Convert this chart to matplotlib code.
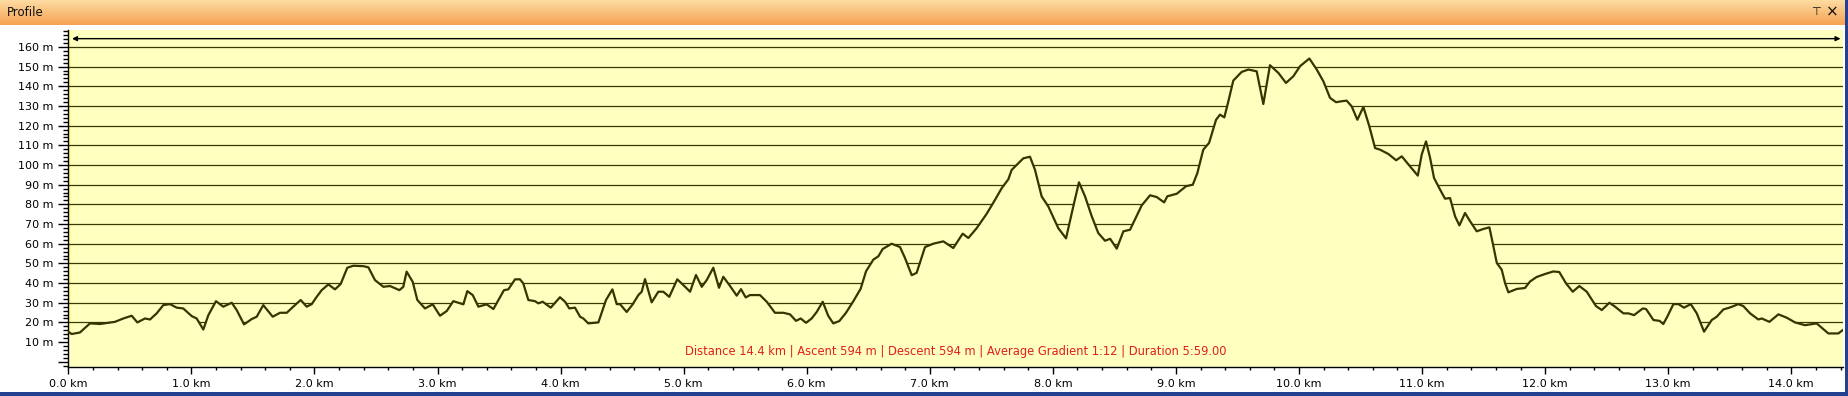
import numpy as np
import matplotlib.pyplot as plt
from matplotlib.colors import LinearSegmentedColormap
from matplotlib.patches import Rectangle
from matplotlib.ticker import MultipleLocator, FuncFormatter

# elevation profile
DIST_KM = [0.000, 0.027, 0.095, 0.176, 0.258, 0.379, 0.447, 0.515, 0.561, 0.623,
           0.664, 0.718, 0.772, 0.826, 0.881, 0.934, 1.003, 1.043, 1.097, 1.138,
           1.200, 1.259, 1.328, 1.368, 1.428, 1.490, 1.531, 1.584, 1.661, 1.720,
           1.775, 1.828, 1.888, 1.937, 1.978, 2.018, 2.059, 2.113, 2.167, 2.213,
           2.267, 2.316, 2.397, 2.438, 2.492, 2.560, 2.614, 2.690, 2.722, 2.749,
           2.798, 2.836, 2.898, 2.961, 3.020, 3.075, 3.128, 3.210, 3.242, 3.286,
           3.332, 3.399, 3.454, 3.502, 3.540, 3.575, 3.630, 3.670, 3.697, 3.738,
           3.792, 3.819, 3.855, 3.920, 3.995, 4.036, 4.071, 4.117, 4.158, 4.185,
           4.225, 4.307, 4.369, 4.421, 4.456, 4.483, 4.537, 4.586, 4.632, 4.659,
           4.686, 4.740, 4.794, 4.835, 4.883, 4.948, 4.997, 5.052, 5.100, 5.147,
           5.187, 5.241, 5.287, 5.322, 5.377, 5.431, 5.466, 5.504, 5.539, 5.620,
           5.675, 5.742, 5.810, 5.864, 5.913, 5.951, 5.994, 6.040, 6.081, 6.130,
           6.175, 6.216, 6.265, 6.319, 6.379, 6.438, 6.482, 6.541, 6.582, 6.617,
           6.690, 6.758, 6.798, 6.853, 6.893, 6.961, 7.028, 7.110, 7.191, 7.267,
           7.313, 7.381, 7.462, 7.530, 7.584, 7.638, 7.665, 7.760, 7.814, 7.855,
           7.909, 7.963, 8.044, 8.107, 8.166, 8.212, 8.261, 8.316, 8.369, 8.424,
           8.465, 8.519, 8.573, 8.627, 8.722, 8.790, 8.844, 8.904, 8.930, 9.007,
           9.082, 9.137, 9.174, 9.222, 9.269, 9.326, 9.358, 9.393, 9.426, 9.466,
           9.534, 9.588, 9.656, 9.710, 9.764, 9.832, 9.894, 9.954, 10.008, 10.084,
           10.144, 10.198, 10.252, 10.301, 10.347, 10.387, 10.428, 10.474, 10.523, 10.571,
           10.618, 10.658, 10.726, 10.789, 10.835, 10.902, 10.965, 10.997, 11.032, 11.065,
           11.097, 11.146, 11.186, 11.227, 11.268, 11.303, 11.349, 11.390, 11.444, 11.498,
           11.547, 11.574, 11.607, 11.647, 11.674, 11.701, 11.769, 11.836, 11.877, 11.931,
           11.999, 12.066, 12.115, 12.170, 12.224, 12.278, 12.338, 12.413, 12.460, 12.522,
           12.568, 12.636, 12.677, 12.722, 12.793, 12.820, 12.880, 12.929, 12.960, 12.992,
           13.042, 13.083, 13.128, 13.183, 13.232, 13.291, 13.353, 13.394, 13.448, 13.502,
           13.570, 13.610, 13.665, 13.732, 13.760, 13.822, 13.895, 13.963, 14.030, 14.111,
           14.206, 14.301, 14.382, 14.418]
ELEV_M = [15.3, 14.1, 14.9, 19.5, 19.2, 20.3, 22.0, 23.4, 20.0, 22.0,
          21.5, 24.6, 28.8, 29.3, 27.5, 27.1, 23.2, 22.0, 16.4, 23.7,
          30.8, 28.0, 30.0, 26.3, 19.0, 21.7, 22.9, 28.8, 22.9, 24.9,
          24.9, 28.0, 31.4, 28.0, 29.3, 33.0, 36.4, 39.3, 36.8, 39.5,
          47.8, 48.8, 48.6, 48.0, 41.5, 38.1, 38.5, 36.4, 38.1, 45.8,
          40.7, 31.4, 27.1, 29.2, 23.4, 25.8, 30.8, 29.2, 35.9, 33.9,
          28.0, 29.2, 26.8, 32.2, 36.4, 36.8, 41.9, 41.9, 39.8, 31.4,
          30.8, 29.7, 30.5, 27.5, 32.8, 30.5, 27.1, 27.5, 22.9, 22.0,
          19.5, 20.0, 31.4, 36.8, 29.3, 29.3, 25.3, 29.2, 33.9, 35.6,
          42.0, 30.2, 35.6, 35.6, 33.0, 41.9, 39.0, 35.6, 44.1, 38.1,
          41.5, 47.8, 37.6, 43.2, 38.5, 33.6, 36.9, 32.7, 33.9, 33.9,
          30.5, 24.9, 24.9, 24.1, 20.8, 22.0, 19.8, 22.0, 25.3, 30.5,
          23.3, 19.5, 20.7, 24.9, 30.8, 37.1, 46.0, 51.9, 53.6, 57.3,
          60.0, 58.3, 52.8, 44.0, 45.2, 58.3, 60.0, 61.2, 57.8, 65.1,
          62.9, 67.9, 75.2, 82.3, 88.2, 92.7, 97.5, 103.4, 104.2, 97.5,
          84.0, 78.9, 67.9, 62.7, 79.0, 91.2, 84.1, 73.9, 65.4, 61.5,
          62.5, 57.5, 66.3, 67.1, 79.5, 84.6, 83.7, 81.0, 84.1, 85.4,
          89.2, 90.0, 95.9, 107.8, 111.2, 123.0, 125.6, 124.2, 132.4, 142.9,
          147.3, 148.5, 147.6, 131.0, 150.7, 146.8, 141.7, 145.1, 150.2, 154.1,
          148.5, 142.5, 134.1, 131.9, 132.4, 132.7, 129.8, 123.0, 129.5, 119.7,
          108.6, 107.8, 105.6, 102.4, 104.4, 99.3, 94.6, 105.3, 112.0, 103.6,
          93.4, 87.5, 82.9, 83.2, 73.9, 69.3, 75.6, 71.4, 66.3, 67.5,
          68.3, 60.3, 50.2, 46.8, 40.0, 35.3, 37.0, 37.5, 40.8, 43.1,
          44.6, 45.9, 45.6, 39.8, 35.6, 38.5, 35.6, 28.3, 26.3, 30.0,
          28.0, 24.6, 24.6, 23.7, 27.1, 26.8, 21.2, 20.8, 19.2, 22.9,
          29.3, 29.3, 27.5, 29.3, 24.6, 15.3, 21.2, 22.9, 26.6, 27.6,
          29.3, 28.3, 24.6, 21.5, 22.0, 20.3, 24.1, 22.4, 20.0, 18.6,
          19.5, 14.4, 14.4, 16.1]

SEL_START, SEL_END = 0.0, 14.4
GRID_LEVELS = list(range(10, 170, 10))
STATS = "Distance 14.4 km | Ascent 594 m | Descent 594 m | Average Gradient 1:12 | Duration 5:59.00"
TITLE = "Profile"

BG = '#FFFFC0'
LINE = '#353500'
GRID = '#3A3A00'
W, H = 1848, 396


def fx(px):
    return px / W


def fy(py):
    return 1 - py / H


fig = plt.figure(figsize=(W / 100, H / 100), dpi=100)
fig.patch.set_facecolor('white')

# title bar with orange gradient
tb = fig.add_axes([0, fy(25), fx(1845), 25 / H])
cmap = LinearSegmentedColormap.from_list('bar', ['#FDDCA2', '#F6A253'])
tb.imshow(np.linspace(0, 1, 64)[:, None], aspect='auto', cmap=cmap, extent=[0, 1, 0, 1])
tb.axis('off')
fig.text(fx(7), fy(12.5), TITLE, fontsize=8.5, va='center', ha='left', color='#111111')
fig.text(fx(1816), fy(12), '\u22a4', fontsize=8, va='center', ha='center', color='#111111')
fig.text(fx(1832), fy(12.5), '\u00d7', fontsize=11, va='center', ha='center', color='#111111')

ax = fig.add_axes([fx(68.3), fy(366.7), fx(1843) - fx(68.3), fy(30) - fy(366.7)])
ax.set_facecolor(BG)
ax.set_xlim(0, 14.42)
ax.set_ylim(-2.5, 168.6)

# a bright strip along the left edge of the plot area
ax.axvspan(0, 0.02, color='#FFFF90', lw=0, zorder=0.5)

for lvl in GRID_LEVELS:
    ax.axhline(lvl, color=GRID, lw=0.9, zorder=1)
ax.fill_between(DIST_KM, ELEV_M, -2.5, color=BG, lw=0, zorder=2)
ax.plot(DIST_KM, ELEV_M, color=LINE, lw=1.6, zorder=3)

ax.annotate('', xy=(SEL_END, 164.2), xytext=(SEL_START + 0.03, 164.2),
            arrowprops=dict(arrowstyle='<|-|>', color='black', lw=1,
                            mutation_scale=7, shrinkA=0, shrinkB=0), zorder=4)

ax.yaxis.set_major_locator(MultipleLocator(10))
ax.yaxis.set_minor_locator(MultipleLocator(2))
ax.xaxis.set_major_locator(MultipleLocator(1))
ax.xaxis.set_minor_locator(MultipleLocator(0.2))
ax.yaxis.set_major_formatter(FuncFormatter(lambda v, p: '%d m' % v if v > 0 else ''))
ax.xaxis.set_major_formatter(FuncFormatter(lambda v, p: '%.1f km' % v))
ax.tick_params(axis='y', which='major', direction='out', length=7, width=1, labelsize=8, pad=4)
ax.tick_params(axis='y', which='minor', direction='out', length=3.5, width=1)
ax.tick_params(axis='x', which='major', direction='out', length=5, width=1, labelsize=8, pad=4)
ax.tick_params(axis='x', which='minor', direction='out', length=2.5, width=1)
for s in ['top', 'right']:
    ax.spines[s].set_visible(False)
ax.spines['left'].set_linewidth(1)
ax.spines['bottom'].set_linewidth(1)

ax.text(0.5, 0.044, STATS, transform=ax.transAxes, color='#E0201C', fontsize=8.3,
        ha='center', va='center', zorder=5)

# window frame
fig.add_artist(Rectangle((fx(1845), 0), 1 - fx(1845), 1, transform=fig.transFigure,
                         color='#24418F', lw=0))
fig.add_artist(Rectangle((0, 0), 1, 4 / H, transform=fig.transFigure, color='#24418F', lw=0))

fig.savefig('out.png', dpi=100)
